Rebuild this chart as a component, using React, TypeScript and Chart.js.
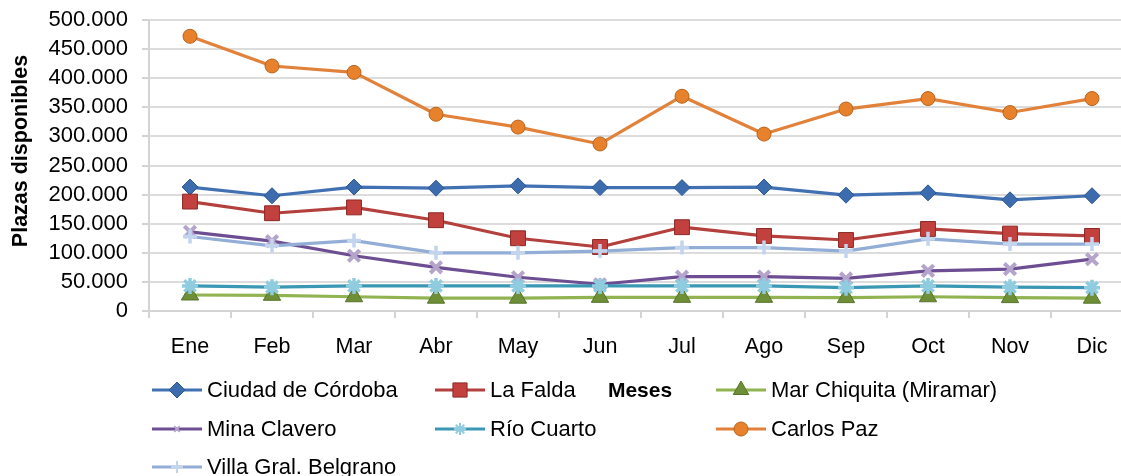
import React, { useEffect, useRef } from "react";
import { Chart, registerables } from "chart.js";
import { drawPoint } from "chart.js/helpers";

Chart.register(...registerables);

const months = ["Ene", "Feb", "Mar", "Abr", "May", "Jun", "Jul", "Ago", "Sep", "Oct", "Nov", "Dic"];

const ciudadCordoba = [213000, 198000, 213000, 211000, 215000, 212000, 212000, 213000, 199000, 203000, 191000, 198000];
const laFalda = [188000, 168000, 178000, 156000, 125000, 110000, 144000, 129000, 122000, 141000, 133000, 129000];
const marChiquita = [27500, 27000, 24500, 22000, 22000, 23500, 23500, 23500, 23000, 24500, 23000, 22000];
const minaClavero = [136000, 120000, 95000, 75000, 58000, 46000, 59000, 59000, 56000, 69000, 72000, 89000];
const rioCuarto = [43000, 41000, 43000, 43000, 43000, 43000, 43000, 43000, 40000, 43000, 41000, 40000];
const carlosPaz = [472000, 421000, 410000, 338000, 316000, 287000, 369000, 304000, 347000, 365000, 341000, 365000];
const villaBelgrano = [128000, 112000, 121000, 100000, 100000, 103000, 109000, 109000, 103000, 124000, 115000, 115000];

const yMin = 0;
const yMax = 500000;
const yStep = 50000;

const yTitle = "Plazas disponibles";
const xTitle = "Meses";

const FONT = '"Liberation Sans", Arial, sans-serif';

function fmt(v: number): string {
  if (v === 0) return "0";
  const s = Math.round(v).toString();
  return s.replace(/\B(?=(\d{3})+(?!\d))/g, ".");
}

const legendColX = [152, 435, 716];
const legendRowY = [390, 429, 467];
const legendRadius = [8, 10, 9, 4, 6, 7, 6];
const legendBorder = [1, 1, 1, 2, 2, 1, 2];

const decorPlugin = {
  id: "decor",
  afterDraw(chart: any) {
    const ctx = chart.ctx as CanvasRenderingContext2D;
    ctx.save();
    chart.data.datasets.forEach((ds: any, i: number) => {
      const col = i % 3;
      const row = Math.floor(i / 3);
      const x0 = legendColX[col];
      const y = legendRowY[row];
      ctx.strokeStyle = ds.borderColor;
      ctx.lineWidth = 3;
      ctx.lineCap = "butt";
      ctx.beginPath();
      ctx.moveTo(x0, y);
      ctx.lineTo(x0 + 50, y);
      ctx.stroke();
      ctx.fillStyle = ds.pointBackgroundColor;
      ctx.strokeStyle = ds.pointBorderColor;
      const bw = legendBorder[i];
      ctx.lineWidth = bw;
      drawPoint(ctx, { pointStyle: ds.pointStyle, radius: legendRadius[i], rotation: 0, borderWidth: bw } as any, x0 + 25, y);
      ctx.fillStyle = "#000";
      ctx.font = `22px ${FONT}`;
      ctx.textAlign = "left";
      ctx.textBaseline = "middle";
      ctx.fillText(ds.label, x0 + 55, y + 1);
    });
    ctx.fillStyle = "#000";
    ctx.font = `bold 21px ${FONT}`;
    ctx.textAlign = "center";
    ctx.textBaseline = "middle";
    ctx.fillText(xTitle, 640, 391);

    ctx.font = `bold 21.5px ${FONT}`;
    ctx.translate(27, 151);
    ctx.rotate(-Math.PI / 2);
    ctx.textBaseline = "alphabetic";
    ctx.fillText(yTitle, 0, 0);
    ctx.restore();
  },
};

function mk(label: string, data: number[], line: string, style: string, radius: number, fill: string, border: string, bw: number, order: number) {
  return {
    label,
    data,
    borderColor: line,
    backgroundColor: line,
    borderWidth: 3.2,
    borderJoinStyle: "round" as const,
    tension: 0,
    pointStyle: style,
    pointRadius: radius,
    pointHoverRadius: radius,
    pointBackgroundColor: fill,
    pointBorderColor: border,
    pointBorderWidth: bw,
    order,
  };
}

export default function App() {
  const ref = useRef<HTMLCanvasElement | null>(null);
  useEffect(() => {
    if (!ref.current) return;
    const chart = new Chart(ref.current, {
      type: "line",
      data: {
        labels: months,
        datasets: [
          mk("Ciudad de Córdoba", ciudadCordoba, "#4170B3", "rectRot", 8, "#3D6CAE", "#2B5792", 1, 7),
          mk("La Falda", laFalda, "#B4403E", "rect", 10.5, "#C2413E", "#8C2826", 1, 6),
          mk("Mar Chiquita (Miramar)", marChiquita, "#92B352", "triangle", 10, "#6F8E38", "#58742A", 1, 5),
          mk("Mina Clavero", minaClavero, "#6E4E93", "crossRot", 8, "#B4A3CA", "#B4A3CA", 4, 4),
          mk("Río Cuarto", rioCuarto, "#3A98B4", "star", 8, "#8FCCDF", "#8FCCDF", 3.5, 3),
          mk("Carlos Paz", carlosPaz, "#E2823A", "circle", 7, "#E7812C", "#B8641F", 1, 2),
          mk("Villa Gral. Belgrano", villaBelgrano, "#93AED6", "cross", 7, "#C3D4EE", "#C3D4EE", 3.5, 1),
        ],
      },
      options: {
        responsive: false,
        animation: false,
        devicePixelRatio: 1,
        layout: { padding: { left: 0, top: 20, right: 27, bottom: 0 } },
        plugins: { legend: { display: false }, tooltip: { enabled: false }, title: { display: false } },
        scales: {
          x: {
            type: "category",
            offset: true,
            grid: { display: true, drawOnChartArea: false, drawTicks: true, tickLength: 7, color: "#D4D4D4", tickColor: "#D4D4D4", lineWidth: 2, offset: true },
            border: { display: true, color: "#D4D4D4", width: 2 },
            ticks: { color: "#000", font: { family: FONT, size: 21.5 }, padding: 16, maxRotation: 0, autoSkip: false },
            afterFit: (s: any) => { s.height = 165; s.paddingLeft = 0; s.paddingRight = 0; },
          },
          y: {
            min: yMin,
            max: yMax,
            grid: { color: "#DCDCDC", tickColor: "#D4D4D4", lineWidth: 2, drawTicks: true, tickLength: 7 },
            border: { display: true, color: "#D4D4D4", width: 2 },
            ticks: { stepSize: yStep, autoSkip: false, color: "#000", font: { family: FONT, size: 22 }, padding: 14, callback: (v: any) => fmt(Number(v)) },
            afterFit: (s: any) => { s.width = 149; s.paddingTop = 0; s.paddingBottom = 0; },
          },
        },
      },
      plugins: [decorPlugin],
    } as any);
    return () => chart.destroy();
  }, []);
  return (
    <div style={{ position: "fixed", left: 0, top: 0, width: 1121, height: 476, overflow: "hidden", background: "#fff" }}>
      <canvas ref={ref} width={1160} height={476} style={{ display: "block" }} />
    </div>
  );
}
